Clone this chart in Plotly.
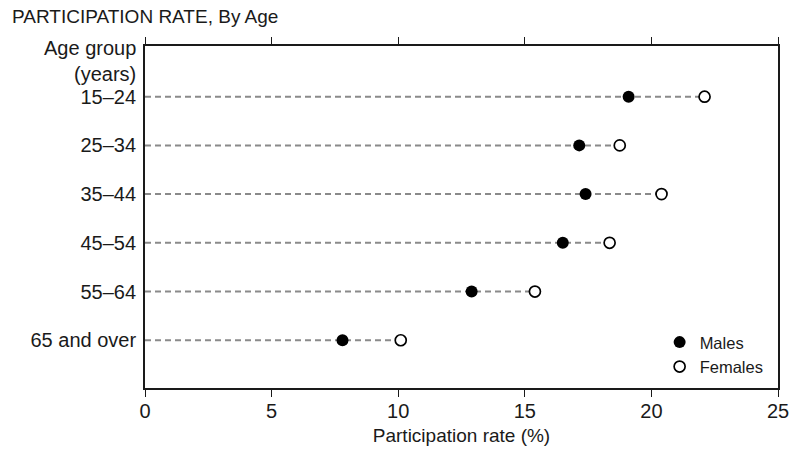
import plotly.graph_objects as go

categories = ["15–24", "25–34", "35–44", "45–54", "55–64", "65 and over"]
males = [19.1, 17.15, 17.4, 16.5, 12.9, 7.8]
females = [22.1, 18.75, 20.4, 18.35, 15.4, 10.1]
x_ticks = [0, 5, 10, 15, 20, 25]

FONT = "Liberation Sans, Arial, sans-serif"
INK = "#1a1a1a"

line_x, line_y = [], []
for c, f in zip(categories, females):
    line_x += [0, f, None]
    line_y += [c, c, None]

fig = go.Figure()
fig.add_trace(go.Scatter(
    x=line_x, y=line_y, mode="lines", showlegend=False, hoverinfo="skip",
    line=dict(color="#8a8a8a", width=2, dash="6px,4px"),
))
fig.add_trace(go.Scatter(
    x=males, y=categories, mode="markers", name="Males",
    marker=dict(symbol="circle", size=12, color="black", line=dict(width=0)),
))
fig.add_trace(go.Scatter(
    x=females, y=categories, mode="markers", name="Females",
    marker=dict(symbol="circle", size=11, color="white", line=dict(width=1.7, color="black")),
))

fig.update_layout(
    width=791, height=450,
    margin=dict(l=145, r=13, t=46, b=62, autoexpand=False),
    paper_bgcolor="white", plot_bgcolor="white",
    font=dict(family=FONT, size=20, color=INK),
    title=dict(text="PARTICIPATION RATE, By Age", x=12 / 791, xanchor="left",
               xref="container", y=1 - 16.5 / 450, yanchor="middle", yref="container",
               font=dict(family=FONT, size=19, color=INK)),
    xaxis=dict(range=[0, 25], tickvals=x_ticks, ticks="outside", ticklen=7, tickwidth=1.3,
               tickcolor=INK, showline=True, linecolor=INK, linewidth=1.8, mirror="ticks",
               showgrid=False, zeroline=False, fixedrange=True, automargin=False,
               tickfont=dict(size=20), ticklabelstandoff=-3,
               title=dict(text="Participation rate (%)", standoff=8, font=dict(size=19))),
    yaxis=dict(categoryorder="array", categoryarray=categories, range=[5.98, -1.04],
               showline=True, linecolor=INK, linewidth=1.8, mirror=True, automargin=False,
               ticks="", showgrid=False, zeroline=False, ticklabelstandoff=3,
               tickfont=dict(size=20), fixedrange=True),
    legend=dict(x=0.813, xanchor="left", y=0.012, yanchor="bottom",
                bgcolor="rgba(0,0,0,0)", font=dict(size=16.5, color=INK),
                itemwidth=30, tracegroupgap=0),
    annotations=[
        dict(text="Age group", xref="paper", yref="paper", x=0, xshift=-7, y=0.995,
             xanchor="right", yanchor="middle", showarrow=False, font=dict(size=20)),
        dict(text="(years)", xref="paper", yref="paper", x=0, xshift=-7, y=0.918,
             xanchor="right", yanchor="middle", showarrow=False, font=dict(size=20)),
    ],
)

fig.write_html("out.html", config={"displayModeBar": False},
               post_script="document.body.style.margin='0';document.body.style.overflow='hidden';")
